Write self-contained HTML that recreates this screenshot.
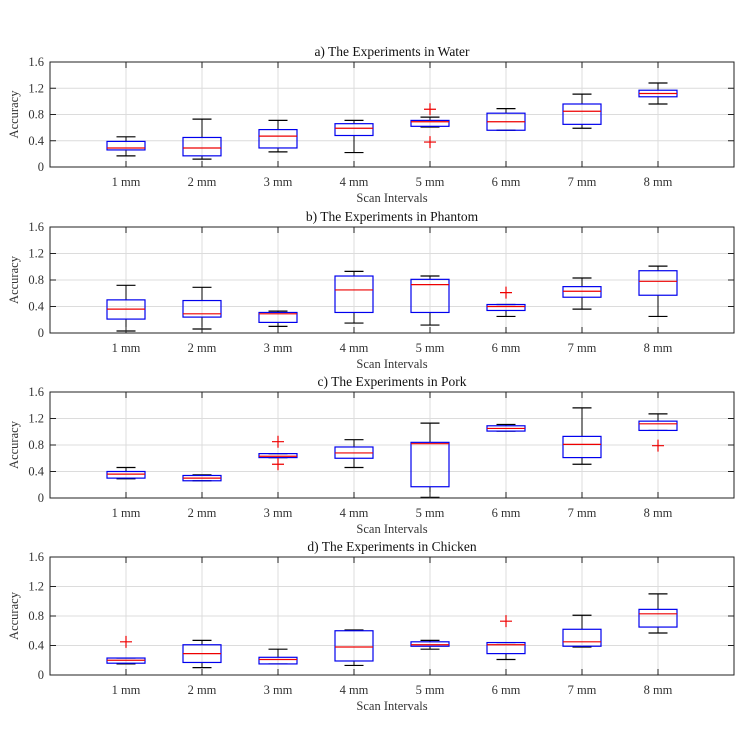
<!DOCTYPE html>
<html><head><meta charset="utf-8">
<style>
html,body{margin:0;padding:0;background:#fff;}
svg{display:block;font-family:"Liberation Serif",serif;}
</style></head>
<body>
<svg id="fig" width="756" height="756" viewBox="0 0 756 756" xmlns="http://www.w3.org/2000/svg"></svg>
<script>
const categories = ["1 mm","2 mm","3 mm","4 mm","5 mm","6 mm","7 mm","8 mm"];
const yTicks = [0, 0.4, 0.8, 1.2, 1.6];
const yTickLabels = ["0","0.4","0.8","1.2","1.6"];
const titles = ["a) The Experiments in Water","b) The Experiments in Phantom","c) The Experiments in Pork","d) The Experiments in Chicken"];
// each: [lowWhisker, q1, median, q3, highWhisker]
const waterStats = [[0.17,0.26,0.29,0.39,0.46],[0.12,0.17,0.29,0.45,0.73],[0.23,0.29,0.47,0.57,0.71],[0.22,0.48,0.59,0.66,0.71],[0.61,0.62,0.69,0.71,0.76],[0.56,0.56,0.69,0.82,0.89],[0.59,0.65,0.85,0.96,1.11],[0.96,1.07,1.12,1.17,1.28]];
const waterOutliers = [[],[],[],[],[0.88,0.38],[],[],[]];
const phantomStats = [[0.03,0.21,0.36,0.50,0.72],[0.06,0.24,0.29,0.49,0.69],[0.10,0.16,0.29,0.31,0.33],[0.15,0.31,0.65,0.86,0.93],[0.12,0.31,0.73,0.81,0.86],[0.25,0.34,0.40,0.43,0.43],[0.36,0.54,0.63,0.70,0.83],[0.25,0.57,0.78,0.94,1.01]];
const phantomOutliers = [[],[],[],[],[],[0.61],[],[]];
const porkStats = [[0.29,0.30,0.36,0.40,0.46],[0.26,0.26,0.30,0.34,0.35],[0.61,0.61,0.63,0.67,0.67],[0.46,0.60,0.68,0.77,0.88],[0.01,0.17,0.82,0.84,1.13],[1.01,1.01,1.05,1.09,1.11],[0.51,0.61,0.81,0.93,1.36],[1.02,1.02,1.12,1.16,1.27]];
const porkOutliers = [[],[],[0.85,0.51],[],[],[],[],[0.79]];
const chickenStats = [[0.15,0.16,0.20,0.23,0.23],[0.10,0.17,0.29,0.41,0.47],[0.15,0.15,0.21,0.24,0.35],[0.13,0.19,0.38,0.60,0.61],[0.35,0.39,0.41,0.45,0.47],[0.21,0.29,0.41,0.44,0.44],[0.38,0.39,0.45,0.62,0.81],[0.57,0.65,0.83,0.89,1.10]];
const chickenOutliers = [[0.45],[],[],[],[],[0.73],[],[]];

const allStats=[waterStats,phantomStats,porkStats,chickenStats];
const allOut=[waterOutliers,phantomOutliers,porkOutliers,chickenOutliers];
const panels=[{top:62,bot:167},{top:227,bot:333},{top:392,bot:498},{top:557,bot:675}];
const L=50,R=734;
const NS="http://www.w3.org/2000/svg";
const svg=document.getElementById('fig');
function mk(tag,attrs,parent){const e=document.createElementNS(NS,tag);for(const k in attrs)e.setAttribute(k,attrs[k]);(parent||svg).appendChild(e);return e;}
function xs(i){return L+(R-L)/9*(i+1);}
panels.forEach((p,pi)=>{
  const ys=v=>p.bot-(v/1.6)*(p.bot-p.top);
  const g=mk('g',{});
  
  
  yTicks.forEach(t=>{const l=mk('line',{x1:L,x2:R,y1:ys(t),y2:ys(t),stroke:'#dcdcdc','stroke-width':1},g);});
  categories.forEach((c,i)=>{const l=mk('line',{x1:xs(i),x2:xs(i),y1:p.top,y2:p.bot,stroke:'#dcdcdc','stroke-width':1},g);});
  const st=allStats[pi],ou=allOut[pi];
  st.forEach((s,i)=>{
    const x=xs(i),bg=mk('g',{},g);
    
    
    mk('line',{x1:x,x2:x,y1:ys(s[3]),y2:ys(s[4]),stroke:'#000','stroke-width':1},bg);
    mk('line',{x1:x,x2:x,y1:ys(s[0]),y2:ys(s[1]),stroke:'#000','stroke-width':1},bg);
    mk('line',{x1:x-9.5,x2:x+9.5,y1:ys(s[4]),y2:ys(s[4]),stroke:'#000','stroke-width':1.2},bg);
    mk('line',{x1:x-9.5,x2:x+9.5,y1:ys(s[0]),y2:ys(s[0]),stroke:'#000','stroke-width':1.2},bg);
    mk('rect',{x:x-19,y:ys(s[3]),width:38,height:Math.max(0.5,ys(s[1])-ys(s[3])),fill:'none',stroke:'#0000ee','stroke-width':1.2},bg);
    mk('line',{x1:x-19,x2:x+19,y1:ys(s[2]),y2:ys(s[2]),stroke:'#ee0000','stroke-width':1.2},bg);
    ou[i].forEach(v=>{
      const o=mk('path',{d:`M${x-6} ${ys(v)}H${x+6}M${x} ${ys(v)-6}V${ys(v)+6}`,stroke:'#ee0000','stroke-width':1.2,fill:'none'},g);
      
      
    });
  });
  const fr=mk('rect',{x:L,y:p.top,width:R-L,height:p.bot-p.top,fill:'none',stroke:'#222','stroke-width':1},g);
  
  categories.forEach((c,i)=>{
    mk('line',{x1:xs(i),x2:xs(i),y1:p.bot,y2:p.bot-6,stroke:'#222'},g);
    mk('line',{x1:xs(i),x2:xs(i),y1:p.top,y2:p.top+6,stroke:'#222'},g);
    const t=mk('text',{x:xs(i),y:p.bot+19,'text-anchor':'middle','font-size':12.5,fill:'#333'},g);
    t.textContent=c;
    
  });
  yTicks.forEach((v,k)=>{
    mk('line',{x1:L,x2:L+6,y1:ys(v),y2:ys(v),stroke:'#222'},g);
    mk('line',{x1:R,x2:R-6,y1:ys(v),y2:ys(v),stroke:'#222'},g);
    const t=mk('text',{x:L-6,y:ys(v)+4,'text-anchor':'end','font-size':12.5,fill:'#333'},g);
    t.textContent=yTickLabels[k];
    
  });
  const tt=mk('text',{x:(L+R)/2,y:p.top-6,'text-anchor':'middle','font-size':13.5,fill:'#111'},g);
  tt.textContent=titles[pi];
  
  const xl=mk('text',{x:(L+R)/2,y:p.bot+35,'text-anchor':'middle','font-size':12.5,fill:'#333'},g);
  xl.textContent='Scan Intervals';
  
  const cy=(p.top+p.bot)/2;
  const yl=mk('text',{x:18,y:cy,'text-anchor':'middle','font-size':12.5,fill:'#333',transform:`rotate(-90 18 ${cy})`},g);
  yl.textContent='Accuracy';
  
});
</script>
</body></html>
